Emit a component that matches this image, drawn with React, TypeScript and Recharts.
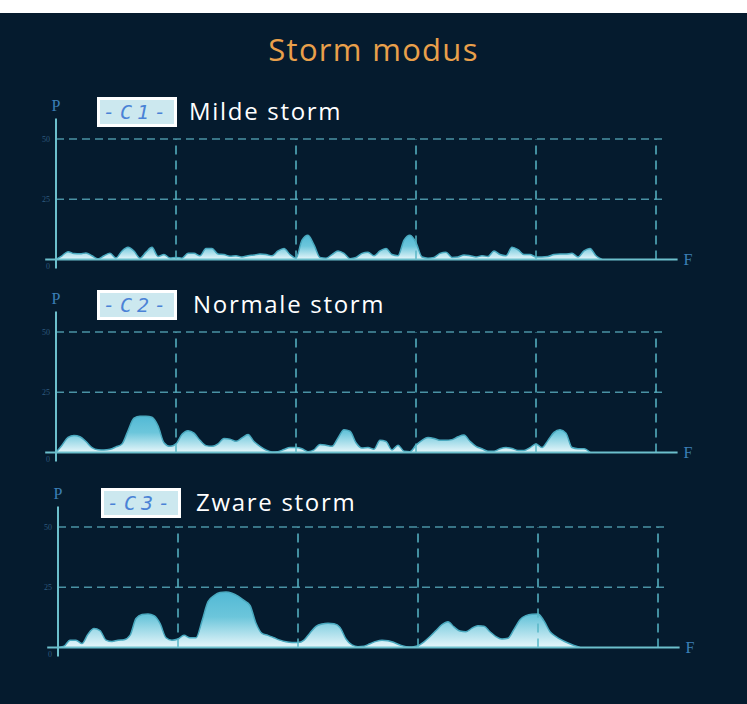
import { Area, AreaChart, ReferenceLine, XAxis, YAxis } from "recharts";

// power (P) per frequency step
const mildeStorm = [
  0, 1.5, 3.2, 2.4, 2.3, 2.7, 1.5, 0.2, 1.5, 2.5, 0.6, 3.5, 5, 3.5, 0.5, 3, 5, 1.2, 2, 0.6,
  0.8, 0.5, 2.5, 2.5, 1.5, 4.5, 4.5, 2.2, 2, 1.3, 1.5, 1, 1.5, 1.8, 2.2, 2, 1.5, 3.5, 4.5, 2,
  0.5, 8, 10, 6, 0.8, 0.5, 2, 3.5, 2.5, 0.3, 0.8, 2.5, 3, 1.5, 3.5, 4.5, 2, 1.5, 8, 10,
  7, 1, 0.5, 0.8, 2.5, 3, 0.8, 1, 1.8, 1.5, 1, 1.5, 1.2, 3.5, 2, 1.5, 5, 4, 2, 2,
  1, 1, 1.2, 2, 2.2, 2.2, 2.5, 1, 3.5, 4.5, 1.5, 0
];

const normaleStorm = [
  0, 3, 6.2, 7, 6.5, 4.5, 2, 1.1, 1, 1.3, 2.3, 3.5, 9, 14.2, 15, 15, 14.6, 11, 4, 2.5,
  3.5, 7.5, 9, 8, 5, 2.8, 2.5, 3.5, 5.8, 5.5, 4.6, 6, 7.4, 4.5, 2.5, 1, 0.2, 0.3, 1.2, 2,
  2, 1.5, 0.3, 1, 3.3, 3, 2.5, 6, 9.4, 8.8, 4, 1.8, 2, 1.3, 5, 4.5, 1, 3, 0.5, 0.3,
  3, 5, 6.2, 5.8, 5, 5, 5.3, 6.5, 7.2, 4.6, 2.5, 1.5, 0.5, 0.5, 1.5, 2, 1.6, 0.8, 0.8, 2,
  3.5, 2, 5, 8.3, 9.4, 8, 2, 1.5, 1.5, 0
];

const zwareStorm = [
  0, 0.5, 3, 3, 1.6, 5.5, 7.8, 7, 3, 2.4, 3, 3.2, 5, 12, 13.7, 13.9, 13.2, 10, 4, 3,
  3.5, 5, 4, 4, 11, 19, 21.5, 22.8, 23, 22.5, 21.3, 19.5, 17.4, 10, 5.8, 5, 4, 3, 2.3, 2,
  2, 3, 6, 8.7, 9.7, 10, 9.8, 8.3, 3.5, 1, 0.3, 0.5, 1.5, 2.5, 3, 2.8, 2, 1, 0.3, 0.2,
  0.7, 2.3, 4.5, 7, 9.5, 10.7, 8.5, 6.8, 6.5, 8, 9, 8.8, 6.5, 4.5, 3.5, 3.8, 7.5, 11.5, 13.2, 13.8,
  13.9, 11, 6.5, 4.5, 3, 1.8, 0.8, 0
];

const yTicks = [0, 25, 50];
const gridF = [20, 40, 60, 80, 100];
const gridP = [25, 50];

const panels = [
  { code: "-C1-", name: "Milde storm", values: mildeStorm, top: 91, left: 44, boxLeft: 97, boxTop: 97, nameLeft: 189 },
  { code: "-C2-", name: "Normale storm", values: normaleStorm, top: 284, left: 44, boxLeft: 97, boxTop: 290, nameLeft: 193 },
  { code: "-C3-", name: "Zware storm", values: zwareStorm, top: 479, left: 46, boxLeft: 101, boxTop: 488, nameLeft: 196 }
];

const serif = "'Liberation Serif', 'DejaVu Serif', serif";
const AXIS_W = 10;

function PTick(props: any) {
  const { x, y, payload } = props;
  const isZero = payload.value === 0;
  return (
    <text
      x={x + 6}
      y={isZero ? y + 8 : y + 1}
      textAnchor="end"
      dominantBaseline="middle"
      fontSize={8}
      fontFamily={serif}
      fill="#2e5a7e"
    >
      {payload.value}
    </text>
  );
}

function StormPanel({ panel, id }: { panel: (typeof panels)[number]; id: string }) {
  const data = panel.values.map((p, i) => ({ f: i, p }));
  return (
    <>
      <div style={{ position: "absolute", left: 0, top: panel.top }}>
        <AreaChart
          width={747}
          height={190}
          data={data}
          margin={{ top: 24, bottom: 12, left: panel.left - AXIS_W, right: 747 - panel.left - 636 }}
        >
          <defs>
            <linearGradient id={id} x1="0" y1="0" x2="0" y2="1">
              <stop offset="0%" stopColor="#52b9d5" />
              <stop offset="45%" stopColor="#6cc6db" />
              <stop offset="100%" stopColor="#e6f6fa" />
            </linearGradient>
          </defs>
          <XAxis type="number" dataKey="f" domain={[-2, 104]} hide />
          <YAxis
            type="number"
            domain={[-4, 60]}
            ticks={yTicks}
            width={AXIS_W}
            axisLine={false}
            tickLine={false}
            tickSize={0}
            tickMargin={0}
            tick={PTick}
            interval={0}
          />
          <Area
            type="monotone"
            dataKey="p"
            stroke="#4aa9bf"
            strokeWidth={1.5}
            fill={`url(#${id})`}
            fillOpacity={1}
            isAnimationActive={false}
          />
          {gridP.map((p) => (
            <ReferenceLine
              key={`h${p}`}
              segment={[{ x: 0, y: p }, { x: 101, y: p }]}
              stroke="#4a92a4"
              strokeWidth={1.5}
              strokeDasharray="8 5"
            />
          ))}
          {gridF.map((f) => (
            <ReferenceLine
              key={`v${f}`}
              segment={[{ x: f, y: 0 }, { x: f, y: 50 }]}
              stroke="#58b6c6"
              strokeWidth={1.5}
              strokeDasharray="9 6"
            />
          ))}
          <ReferenceLine
            segment={[{ x: -1.8, y: 0 }, { x: 103.6, y: 0 }]}
            stroke="#6cbfcc"
            strokeWidth={2}
            ifOverflow="visible"
            label={{ value: "F", position: "right", offset: 6, fill: "#3c7fb8", fontSize: 16, fontFamily: serif }}
          />
          <ReferenceLine
            segment={[{ x: 0, y: -3.8 }, { x: 0, y: 58.5 }]}
            stroke="#6cbfcc"
            strokeWidth={2}
            ifOverflow="visible"
            label={{ value: "P", position: "top", offset: 8, fill: "#3c7fb8", fontSize: 16, fontFamily: serif }}
          />
        </AreaChart>
      </div>
      <div
        style={{
          position: "absolute",
          left: panel.boxLeft,
          top: panel.boxTop,
          width: 80,
          height: 30,
          boxSizing: "border-box",
          border: "3px solid #ffffff",
          background: "#cce8ef",
          color: "#4a82d6",
          fontFamily: "'DejaVu Sans Mono', monospace",
          fontSize: 20,
          lineHeight: "24px",
          letterSpacing: 5,
          textAlign: "center",
          fontStyle: "italic"
        }}
      >
        {panel.code}
      </div>
      <div
        style={{
          position: "absolute",
          left: panel.nameLeft,
          top: panel.boxTop - 1,
          lineHeight: "30px",
          fontSize: 24,
          letterSpacing: 1.7,
          fontFamily: "'Open Sans', sans-serif",
          color: "#ffffff"
        }}
      >
        {panel.name}
      </div>
    </>
  );
}

export default function App() {
  return (
    <div style={{ position: "absolute", left: 0, top: 0, width: 747, height: 704, background: "#ffffff", overflow: "hidden" }}>
      <div style={{ position: "absolute", left: 0, top: 13, width: 747, height: 691, background: "#051b2e" }} />
      <div
        style={{
          position: "absolute",
          left: 0,
          top: 29,
          width: 747,
          textAlign: "center",
          fontFamily: "'Open Sans', sans-serif",
          fontSize: 31,
          letterSpacing: 1.3,
          lineHeight: "40px",
          color: "#e9a04b"
        }}
      >
        Storm modus
      </div>
      {panels.map((panel, i) => (
        <StormPanel key={panel.code} panel={panel} id={`stormFill${i}`} />
      ))}
    </div>
  );
}
